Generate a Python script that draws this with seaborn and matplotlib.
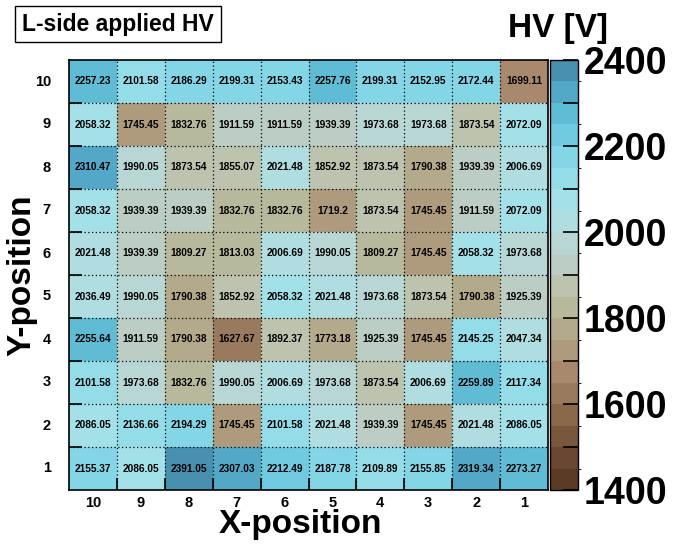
import numpy as np
import pandas as pd
import seaborn as sns
import matplotlib
matplotlib.use('Agg')
import matplotlib.pyplot as plt
from matplotlib.colors import ListedColormap, BoundaryNorm

# HV values, rows Y=10 (top) .. Y=1 (bottom), columns X=10 (left) .. X=1 (right)
x_labels = ['10', '9', '8', '7', '6', '5', '4', '3', '2', '1']
y_labels = ['10', '9', '8', '7', '6', '5', '4', '3', '2', '1']

row_10 = [2257.23, 2101.58, 2186.29, 2199.31, 2153.43, 2257.76, 2199.31, 2152.95, 2172.44, 1699.11]
row_9 = [2058.32, 1745.45, 1832.76, 1911.59, 1911.59, 1939.39, 1973.68, 1973.68, 1873.54, 2072.09]
row_8 = [2310.47, 1990.05, 1873.54, 1855.07, 2021.48, 1852.92, 1873.54, 1790.38, 1939.39, 2006.69]
row_7 = [2058.32, 1939.39, 1939.39, 1832.76, 1832.76, 1719.2, 1873.54, 1745.45, 1911.59, 2072.09]
row_6 = [2021.48, 1939.39, 1809.27, 1813.03, 2006.69, 1990.05, 1809.27, 1745.45, 2058.32, 1973.68]
row_5 = [2036.49, 1990.05, 1790.38, 1852.92, 2058.32, 2021.48, 1973.68, 1873.54, 1790.38, 1925.39]
row_4 = [2255.64, 1911.59, 1790.38, 1627.67, 1892.37, 1773.18, 1925.39, 1745.45, 2145.25, 2047.34]
row_3 = [2101.58, 1973.68, 1832.76, 1990.05, 2006.69, 1973.68, 1873.54, 2006.69, 2259.89, 2117.34]
row_2 = [2086.05, 2136.66, 2194.29, 1745.45, 2101.58, 2021.48, 1939.39, 1745.45, 2021.48, 2086.05]
row_1 = [2155.37, 2086.05, 2391.05, 2307.03, 2212.49, 2187.78, 2109.89, 2155.85, 2319.34, 2273.27]

# 20 palette bands from 1400 to 2400 (brown -> blue)
band_colors = ['#5a3a22', '#694731', '#79573d', '#8a684c', '#9a7a5e',
               '#a8896e', '#ae9a7c', '#b3aa8c', '#b8b89c', '#bcc4b0',
               '#bccdc4', '#b8d6d4', '#b0dde0', '#a4e0e8', '#94dce8',
               '#84d5e5', '#70cbe0', '#60bcd4', '#53a8c8', '#4890b0']

df = pd.DataFrame([row_10, row_9, row_8, row_7, row_6, row_5, row_4, row_3, row_2, row_1],
                  index=y_labels, columns=x_labels)
annot = df.map(lambda v: f'{v:g}')

cmap = ListedColormap(band_colors)
bounds = np.arange(1400, 2401, 50)
norm = BoundaryNorm(bounds, cmap.N)

plt.rcParams['font.family'] = ['Liberation Sans', 'DejaVu Sans']
plt.rcParams['font.weight'] = 'bold'

fig = plt.figure(figsize=(6.75, 5.44), dpi=100)
ax = fig.add_axes([69 / 675, 54 / 544, 479 / 675, 430 / 544])
cax = fig.add_axes([550 / 675, 54 / 544, 28 / 675, 430 / 544])

sns.heatmap(df, ax=ax, cmap=cmap, norm=norm, annot=annot, fmt='',
            annot_kws={'fontsize': 7.3, 'fontweight': 'bold', 'color': 'black'},
            cbar_ax=cax, cbar_kws={'ticks': np.arange(1400, 2401, 100)})

# dotted cell borders
for i in range(1, 10):
    ax.axhline(i, color='black', linestyle=(0, (1, 2)), linewidth=0.9)
    ax.axvline(i, color='black', linestyle=(0, (1, 2)), linewidth=0.9)
for s in ax.spines.values():
    s.set_visible(True)
    s.set_linewidth(1.2)

ax.set_xticks(np.arange(1, 10), minor=True)
ax.set_yticks(np.arange(1, 10), minor=True)
ax.tick_params(axis='both', which='minor', direction='in', length=9, width=1.2)
ax.tick_params(axis='y', which='major', length=0, labelsize=10.5, pad=13)
ax.tick_params(axis='x', which='major', length=0, labelsize=10.5, pad=4)
ax.set_yticklabels(y_labels, rotation=0, fontweight='bold')
ax.set_xticklabels(x_labels, rotation=0, fontweight='bold')
ax.set_xlabel('')
ax.set_ylabel('')

fig.text(300 / 675, 1 - 524 / 544, 'X-position', ha='center', va='center',
         fontsize=24, fontweight='bold')
fig.text(22 / 675, 1 - 275 / 544, 'Y-position', ha='center', va='center',
         rotation=90, fontsize=24, fontweight='bold')

# colorbar ticks: every 100, labelled every 200
cbar = ax.collections[0].colorbar
cbar.outline.set_linewidth(1.0)
cax.tick_params(direction='in', length=11, width=1.2, labelsize=27, pad=4)
cax.set_yticklabels([str(t) if t % 200 == 0 else '' for t in range(1400, 2401, 100)],
                    fontweight='bold')

fig.text(608 / 675, 1 - 28 / 544, 'HV [V]', ha='right', va='center', fontsize=24, fontweight='bold')
fig.text(22 / 675, 1 - 24 / 544, 'L-side applied HV', ha='left', va='center', fontsize=16.5,
         fontweight='bold',
         bbox=dict(boxstyle='square,pad=0.3', facecolor='white', edgecolor='black', linewidth=1))

fig.savefig('out.png', dpi=100)
